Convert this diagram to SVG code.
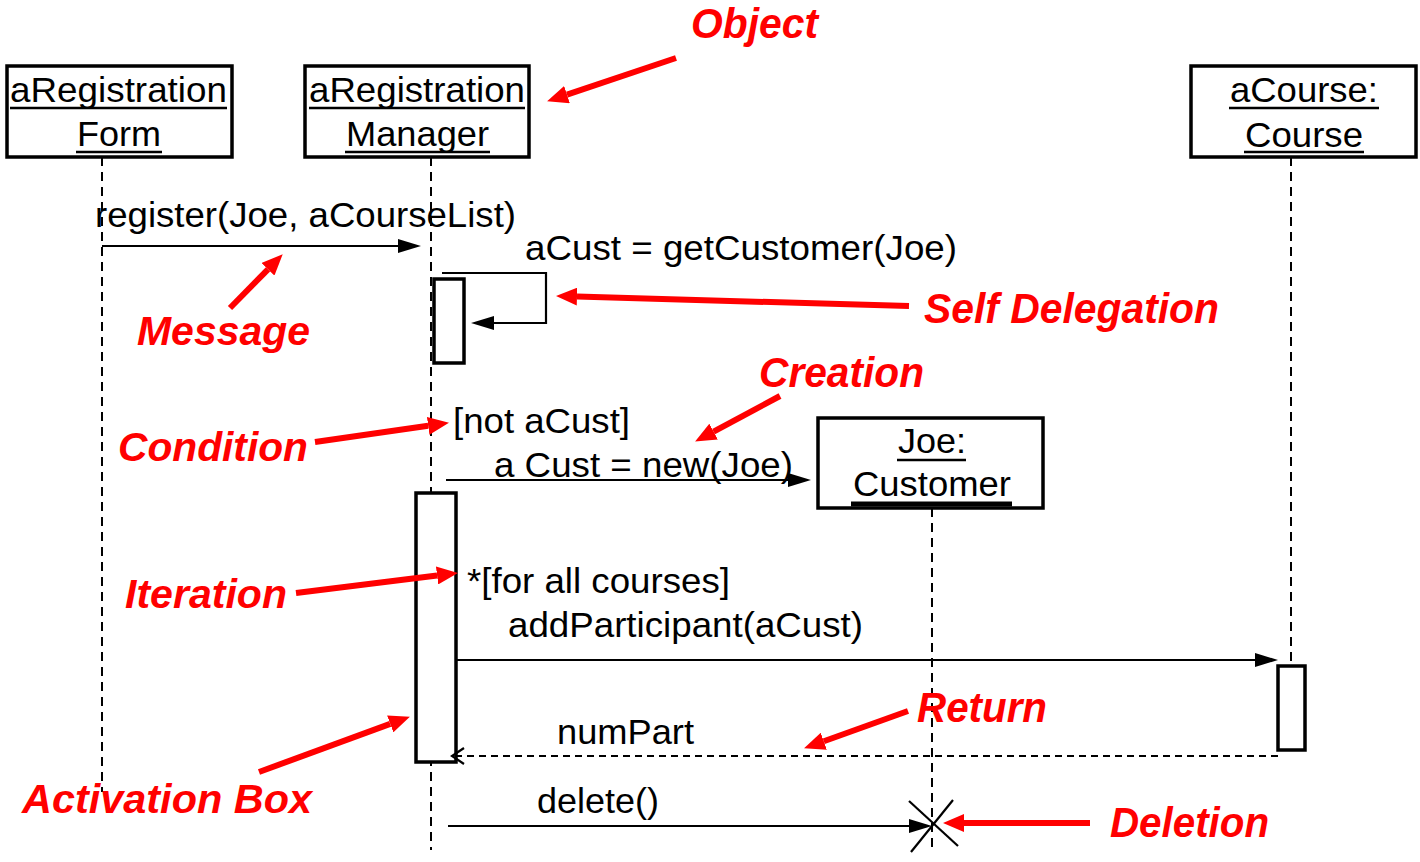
<svg xmlns="http://www.w3.org/2000/svg" width="1420" height="862" viewBox="0 0 1420 862">
<style>
.bg{fill:#fff}
.obj{fill:#fff;stroke:#000;stroke-width:3.5}
.act{fill:#fff;stroke:#000;stroke-width:3.5}
.life{stroke:#000;stroke-width:2;stroke-dasharray:9 6;fill:none}
.ul{stroke:#000;stroke-width:2.5}
.t{font-family:"Liberation Sans",Arial,sans-serif;font-size:35px;fill:#000}
.msg{stroke:#000;stroke-width:2.2;fill:none}
.ret{stroke:#000;stroke-width:2.2;stroke-dasharray:7 5;fill:none}
.red{stroke:#f00;stroke-width:6;fill:none}
.rt{font-family:"Liberation Sans",Arial,sans-serif;font-size:40px;font-weight:bold;font-style:italic;fill:#f00}
.rn{font-family:"Liberation Sans Narrow","Liberation Sans",Arial,sans-serif;font-size:42px;font-weight:bold;font-style:italic;fill:#f00}
</style>
<defs>
<marker id="ah" markerUnits="userSpaceOnUse" markerWidth="24" markerHeight="14" refX="0" refY="7" orient="auto">
<path d="M0,0 L23,7 L0,14 z" fill="#000"/>
</marker>
<marker id="rh" markerUnits="userSpaceOnUse" markerWidth="22" markerHeight="18" refX="0" refY="9" orient="auto">
<path d="M0,0 L21,9 L0,18 z" fill="#f00"/>
</marker>
</defs>
<rect class="bg" x="0" y="0" width="1420" height="862"/>

<g id="lifelines">
<line class="life" x1="102" y1="157" x2="102" y2="792"/>
<line class="life" x1="431" y1="157" x2="431" y2="850"/>
<line class="life" x1="1291" y1="157" x2="1291" y2="666"/>
<line class="life" x1="932" y1="508" x2="932" y2="852"/>
</g>

<g id="aRegistrationForm">
<rect class="obj" x="7" y="66" width="225" height="91"/>
<text class="t" x="10" y="102" textLength="217" lengthAdjust="spacingAndGlyphs">aRegistration</text>
<line class="ul" x1="10" y1="108" x2="227" y2="108"/>
<text class="t" x="77" y="146" textLength="84" lengthAdjust="spacingAndGlyphs">Form</text>
<line class="ul" x1="76" y1="152" x2="162" y2="152"/>
</g>

<g id="aRegistrationManager">
<rect class="obj" x="305" y="66" width="224" height="91"/>
<text class="t" x="309" y="102" textLength="216" lengthAdjust="spacingAndGlyphs">aRegistration</text>
<line class="ul" x1="309" y1="108" x2="525" y2="108"/>
<text class="t" x="346" y="146" textLength="143" lengthAdjust="spacingAndGlyphs">Manager</text>
<line class="ul" x1="345" y1="152" x2="490" y2="152"/>
</g>

<g id="aCourse">
<rect class="obj" x="1191" y="66" width="225" height="91"/>
<text class="t" x="1230" y="102" textLength="148" lengthAdjust="spacingAndGlyphs">aCourse:</text>
<line class="ul" x1="1229" y1="108" x2="1379" y2="108"/>
<text class="t" x="1245" y="147" textLength="118" lengthAdjust="spacingAndGlyphs">Course</text>
<line class="ul" x1="1244" y1="152" x2="1364" y2="152"/>
</g>

<g id="JoeCustomer">
<rect class="obj" x="818" y="418" width="225" height="90"/>
<text class="t" x="898" y="453" textLength="68" lengthAdjust="spacingAndGlyphs">Joe:</text>
<line class="ul" x1="897" y1="460" x2="966" y2="460"/>
<text class="t" x="853" y="496" textLength="158" lengthAdjust="spacingAndGlyphs">Customer</text>
<line x1="851" y1="504" x2="1012" y2="504" stroke="#000" stroke-width="5"/>
</g>

<g id="activations">
<rect class="act" x="434" y="279" width="30" height="84"/>
<rect class="act" x="416" y="493" width="40" height="269"/>
<rect class="act" x="1278" y="666" width="27" height="84"/>
</g>

<g id="connectors">
<line class="msg" x1="102" y1="246" x2="398" y2="246" marker-end="url(#ah)"/>
<polyline class="msg" points="442,273 546,273 546,323 494,323" marker-end="url(#ah)"/>
<line class="msg" x1="446" y1="480" x2="788" y2="480" marker-end="url(#ah)"/>
<line class="msg" x1="456" y1="660" x2="1255" y2="660" marker-end="url(#ah)"/>
<line class="ret" x1="1278" y1="756" x2="453" y2="756"/>
<polyline class="msg" points="464,748 452,756 464,764"/>
<line class="msg" x1="448" y1="826" x2="909" y2="826" marker-end="url(#ah)"/>
<line class="msg" x1="909" y1="801" x2="958" y2="846"/>
<line class="msg" x1="953" y1="800" x2="911" y2="852"/>
</g>

<g id="labels">
<text class="t" x="95" y="227" textLength="421" lengthAdjust="spacingAndGlyphs">register(Joe, aCourseList)</text>
<text class="t" x="525" y="260" textLength="432" lengthAdjust="spacingAndGlyphs">aCust = getCustomer(Joe)</text>
<text class="t" x="453" y="433" textLength="177" lengthAdjust="spacingAndGlyphs">[not aCust]</text>
<text class="t" x="494" y="477" textLength="299" lengthAdjust="spacingAndGlyphs">a Cust = new(Joe)</text>
<text class="t" x="467" y="593" textLength="263" lengthAdjust="spacingAndGlyphs">*[for all courses]</text>
<text class="t" x="508" y="637" textLength="355" lengthAdjust="spacingAndGlyphs">addParticipant(aCust)</text>
<text class="t" x="557" y="744" textLength="137" lengthAdjust="spacingAndGlyphs">numPart</text>
<text class="t" x="537" y="813" textLength="122" lengthAdjust="spacingAndGlyphs">delete()</text>
</g>

<g id="annotations">
<line class="red" x1="676" y1="58" x2="567" y2="94.6" marker-end="url(#rh)"/>
<line class="red" x1="230" y1="308" x2="268" y2="269.3" marker-end="url(#rh)"/>
<line class="red" x1="909" y1="306" x2="577" y2="296.6" marker-end="url(#rh)"/>
<line class="red" x1="780" y1="396" x2="713.6" y2="431.6" marker-end="url(#rh)"/>
<line class="red" x1="315" y1="442" x2="428.2" y2="425.8" marker-end="url(#rh)"/>
<line class="red" x1="296" y1="593" x2="437.1" y2="575.5" marker-end="url(#rh)"/>
<line class="red" x1="259" y1="772" x2="390.2" y2="723.9" marker-end="url(#rh)"/>
<line class="red" x1="908" y1="711" x2="823.8" y2="741.2" marker-end="url(#rh)"/>
<line class="red" x1="1090" y1="823" x2="964" y2="823" marker-end="url(#rh)"/>
<text class="rn" x="691" y="38" textLength="127" lengthAdjust="spacingAndGlyphs">Object</text>
<text class="rt" x="137" y="345" textLength="173" lengthAdjust="spacingAndGlyphs">Message</text>
<text class="rn" x="924" y="323" textLength="295" lengthAdjust="spacingAndGlyphs">Self Delegation</text>
<text class="rn" x="759" y="387" textLength="165" lengthAdjust="spacingAndGlyphs">Creation</text>
<text class="rt" x="118" y="461" textLength="190" lengthAdjust="spacingAndGlyphs">Condition</text>
<text class="rt" x="125" y="608" textLength="162" lengthAdjust="spacingAndGlyphs">Iteration</text>
<text class="rn" x="917" y="722" textLength="130" lengthAdjust="spacingAndGlyphs">Return</text>
<text class="rt" x="22" y="813" textLength="290" lengthAdjust="spacingAndGlyphs">Activation Box</text>
<text class="rn" x="1110" y="837" textLength="159" lengthAdjust="spacingAndGlyphs">Deletion</text>
</g>
</svg>
